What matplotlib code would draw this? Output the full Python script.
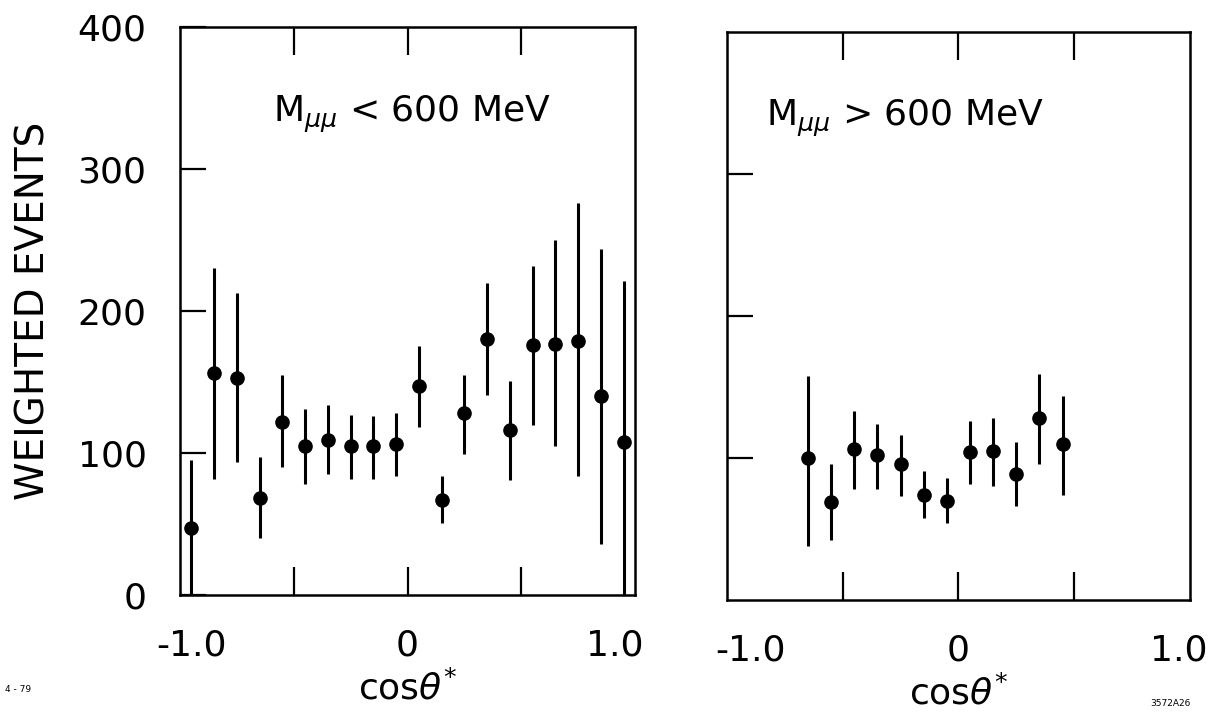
import matplotlib
matplotlib.use("Agg")
import matplotlib.pyplot as plt

# cos(theta*) bin centres and weighted events
left_x = [-0.95, -0.85, -0.75, -0.65, -0.55, -0.45, -0.35, -0.25, -0.15, -0.05,
          0.05, 0.15, 0.25, 0.35, 0.45, 0.55, 0.65, 0.75, 0.85, 0.95]
left_y = [47, 156, 153, 68, 122, 105, 109, 105, 105, 106,
          147, 67, 128, 180, 116, 176, 177, 179, 140, 108]
left_lo = [47, 74, 59, 28, 32, 27, 24, 23, 23, 22,
           29, 16, 29, 39, 35, 56, 72, 95, 104, 108]
left_hi = [48, 74, 60, 29, 33, 26, 25, 22, 21, 22,
           28, 17, 27, 40, 35, 56, 73, 97, 104, 113]

right_x = [-0.65, -0.55, -0.45, -0.35, -0.25, -0.15, -0.05, 0.05, 0.15, 0.25, 0.35, 0.45]
right_y = [100, 69, 106, 102, 96, 74, 70, 104, 105, 89, 128, 110]
right_lo = [62, 27, 28, 24, 23, 16, 16, 22, 25, 23, 32, 36]
right_hi = [58, 27, 27, 22, 20, 17, 16, 22, 23, 22, 31, 34]

x_label_text = ["-1.0", "0", "1.0"]
x_mark_ticks = [-0.5, 0.0, 0.5]
y_ticks = [0, 100, 200, 300, 400]
y_tick_text = ["0", "100", "200", "300", "400"]

FS = 26


def style_panel(ax, label_pos):
    ax.set_xlim(-1.0, 1.0)
    ax.set_ylim(0, 400)
    for s in ax.spines.values():
        s.set_linewidth(1.8)
    # labels near -1, 0, 1 ; tick marks at -0.5, 0, 0.5 (top and bottom)
    ax.xaxis.remove_overlapping_locs = False
    ax.set_xticks(label_pos)
    ax.set_xticklabels(x_label_text)
    ax.set_xticks(x_mark_ticks, minor=True)
    ax.tick_params(axis="x", which="major", length=0, pad=24, labelsize=FS)
    ax.tick_params(axis="x", which="minor", direction="in", length=20, width=1.6,
                   top=True, bottom=True)
    ax.tick_params(axis="y", which="major", direction="in", length=19, width=1.6,
                   pad=24, labelsize=FS)
    ax.set_xlabel(r"cos$\theta^{*}$", fontsize=26, labelpad=6)


fig = plt.figure(figsize=(12.13, 7.17), dpi=100)
ax1 = fig.add_axes([0.1484, 0.1702, 0.3751, 0.7921])
ax2 = fig.add_axes([0.5993, 0.1632, 0.3817, 0.7922])

style_panel(ax1, [-0.95, 0.0, 0.91])
ax1.set_yticks(y_ticks)
ax1.set_yticklabels(y_tick_text)
ax1.errorbar(left_x, left_y, yerr=[left_lo, left_hi], fmt="o", color="black",
             markersize=9.5, elinewidth=2.2, capsize=0)
ax1.text(-0.59, 333, r"M$_{\mu\mu}$ < 600 MeV", fontsize=26, va="baseline")
ax1.set_ylabel("WEIGHTED EVENTS", fontsize=28, labelpad=18)

style_panel(ax2, [-0.9, 0.0, 0.95])
ax2.set_yticks([100, 200, 300])
ax2.set_yticklabels([])
ax2.errorbar(right_x, right_y, yerr=[right_lo, right_hi], fmt="o", color="black",
             markersize=9.5, elinewidth=2.2, capsize=0)
ax2.text(-0.83, 334, r"M$_{\mu\mu}$ > 600 MeV", fontsize=26, va="baseline")

fig.text(0.004, 0.035, "4 - 79", fontsize=6.5)
fig.text(0.948, 0.015, "3572A26", fontsize=6.5)

fig.savefig("out.png", dpi=100)
